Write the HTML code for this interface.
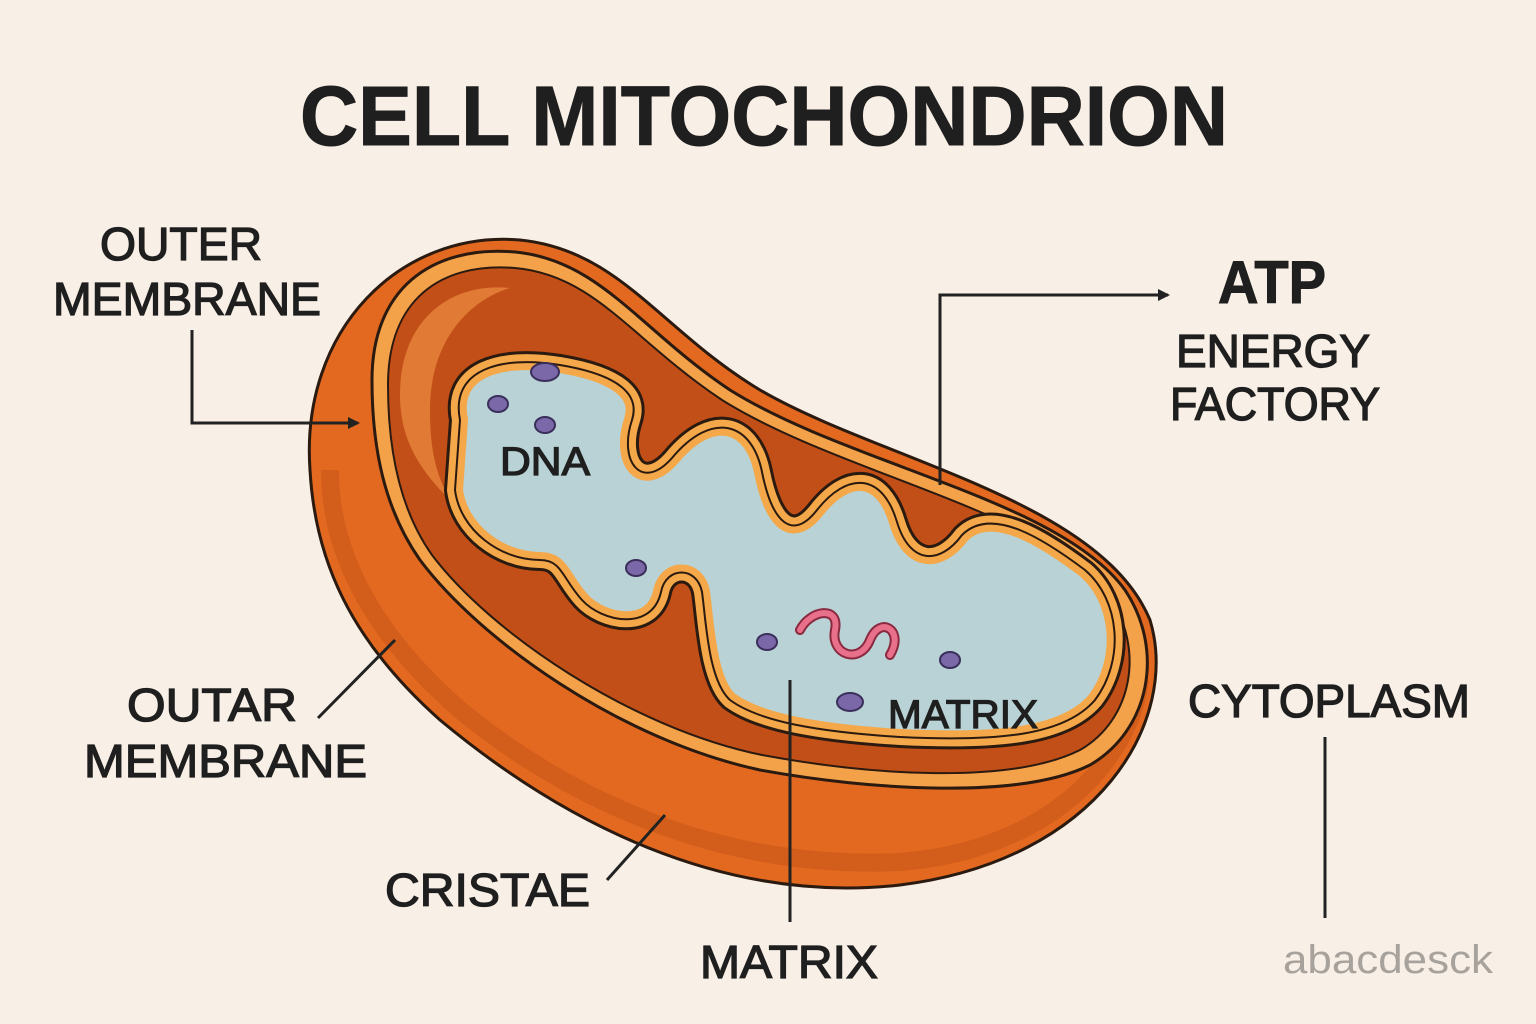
<!DOCTYPE html>
<html><head><meta charset="utf-8"><style>
html,body{margin:0;padding:0;background:#f8efe6;}
svg{display:block}
text{font-family:"Liberation Sans",sans-serif;font-weight:normal;fill:#1f1f1f;stroke:#1f1f1f;stroke-width:1.3}
text.t{font-weight:bold;stroke-width:1}
</style></head><body>
<svg width="1536" height="1024" viewBox="0 0 1536 1024">
<rect width="1536" height="1024" fill="#f8efe6"/>
<defs>
<marker id="ah" markerWidth="12" markerHeight="12" refX="10" refY="6" orient="auto" markerUnits="userSpaceOnUse"><path d="M0,0 L12,6 L0,12 Z" fill="#222"/></marker>
<path id="mxp" d="M460,420 C450,370 500,355 560,365 C620,375 640,395 632,420 C618,462 642,492 672,458 C712,410 752,422 762,472 C772,522 792,542 817,510 C847,472 882,472 897,522 C910,565 940,565 962,535 C992,505 1045,540 1085,570 C1120,600 1125,660 1095,700 C1065,735 1000,742 900,737 C820,732 760,722 730,700 C708,680 706,620 702,592 C697,566 666,566 661,592 C652,632 602,622 582,600 C562,578 562,560 540,560 C500,560 460,530 455,490 Z"/>
</defs>
<text class="t" x="300" y="145" font-size="84" textLength="928" lengthAdjust="spacingAndGlyphs">CELL MITOCHONDRION</text>

<path d="M310,470 C300,330 400,230 520,240 C620,250 660,330 760,390 C880,460 1100,500 1150,620 C1180,720 1100,860 900,885 C720,905 560,820 440,720 C350,640 315,560 310,470 Z" fill="#e2691f" stroke="#2a1a10" stroke-width="3"/>
<path d="M330,470 C330,560 380,640 460,710 C570,800 720,870 900,862 C1050,850 1130,760 1140,680" fill="none" stroke="#c9561a" stroke-width="18" opacity="0.6"/>
<path d="M372,380 C372,290 430,245 515,252 C600,260 640,330 730,390 C850,465 1060,500 1125,590 C1165,650 1150,730 1090,765 C1020,800 870,790 760,770 C620,740 480,640 420,560 C385,510 372,450 372,380 Z" fill="#f4a24a" stroke="#2a1a10" stroke-width="3"/>
<path d="M388,385 C388,300 440,262 515,268 C595,275 632,340 722,400 C842,475 1050,512 1110,598 C1145,650 1132,720 1080,750 C1010,785 870,775 762,755 C630,728 490,632 432,555 C400,510 388,450 388,385 Z" fill="#c24f17" stroke="#2a1a10" stroke-width="2"/>
<path d="M400,395 C400,320 450,282 510,288 C470,300 430,340 430,410 C430,460 440,480 450,500 C420,470 400,440 400,395 Z" fill="#e07a35"/>
<use href="#mxp" fill="none" stroke="#2a1a10" stroke-width="22" stroke-linejoin="round"/>
<use href="#mxp" fill="#b9d2d6" stroke="#f4a84a" stroke-width="16" stroke-linejoin="round"/>
<use href="#mxp" fill="none" stroke="#2a1a10" stroke-width="2"/>
<g fill="#7a68a8" stroke="#3a2f5a" stroke-width="2">
<ellipse cx="545" cy="372" rx="14" ry="9"/>
<ellipse cx="498" cy="404" rx="10" ry="8"/>
<ellipse cx="545" cy="425" rx="10" ry="8"/>
<ellipse cx="636" cy="568" rx="10" ry="8"/>
<ellipse cx="767" cy="642" rx="10" ry="8"/>
<ellipse cx="950" cy="660" rx="10" ry="8"/>
<ellipse cx="850" cy="702" rx="13" ry="9"/>
</g>
<path d="M800,630 C810,610 840,605 835,630 C830,655 860,665 870,640 C880,615 905,630 890,655" fill="none" stroke="#8a2a40" stroke-width="10" stroke-linecap="round"/>
<path d="M800,630 C810,610 840,605 835,630 C830,655 860,665 870,640 C880,615 905,630 890,655" fill="none" stroke="#e8708a" stroke-width="6" stroke-linecap="round"/>
<text x="500" y="475" font-size="40" textLength="90" lengthAdjust="spacingAndGlyphs">DNA</text>
<text x="888" y="728" font-size="40" textLength="150" lengthAdjust="spacingAndGlyphs">MATRIX</text>

<g stroke="#222" stroke-width="3" fill="none">
<path d="M192,330 L192,423 L358,423" marker-end="url(#ah)"/>
<path d="M318,718 L395,640"/>
<path d="M607,880 L665,815"/>
<path d="M790,680 L790,922"/>
<path d="M940,485 L940,295 L1168,295" marker-end="url(#ah)"/>
<path d="M1325,737 L1325,918"/>
</g>
<text x="100" y="260" font-size="46" textLength="162" lengthAdjust="spacingAndGlyphs">OUTER</text>
<text x="53" y="315" font-size="46" textLength="268" lengthAdjust="spacingAndGlyphs">MEMBRANE</text>
<text x="127" y="721" font-size="46" textLength="170" lengthAdjust="spacingAndGlyphs">OUTAR</text>
<text x="84" y="777" font-size="46" textLength="283" lengthAdjust="spacingAndGlyphs">MEMBRANE</text>
<text x="385" y="906" font-size="46" textLength="205" lengthAdjust="spacingAndGlyphs">CRISTAE</text>
<text x="700" y="978" font-size="46" textLength="178" lengthAdjust="spacingAndGlyphs">MATRIX</text>
<text class="t" x="1218" y="303" font-size="60" textLength="108" lengthAdjust="spacingAndGlyphs">ATP</text>
<text x="1176" y="367" font-size="46" textLength="194" lengthAdjust="spacingAndGlyphs">ENERGY</text>
<text x="1170" y="420" font-size="46" textLength="210" lengthAdjust="spacingAndGlyphs">FACTORY</text>
<text x="1188" y="717" font-size="46" textLength="282" lengthAdjust="spacingAndGlyphs">CYTOPLASM</text>
<text x="1283" y="973" font-size="40" textLength="210" lengthAdjust="spacingAndGlyphs" style="fill:#a8a29c;stroke:none">abacdesck</text>
</svg>
</body></html>
